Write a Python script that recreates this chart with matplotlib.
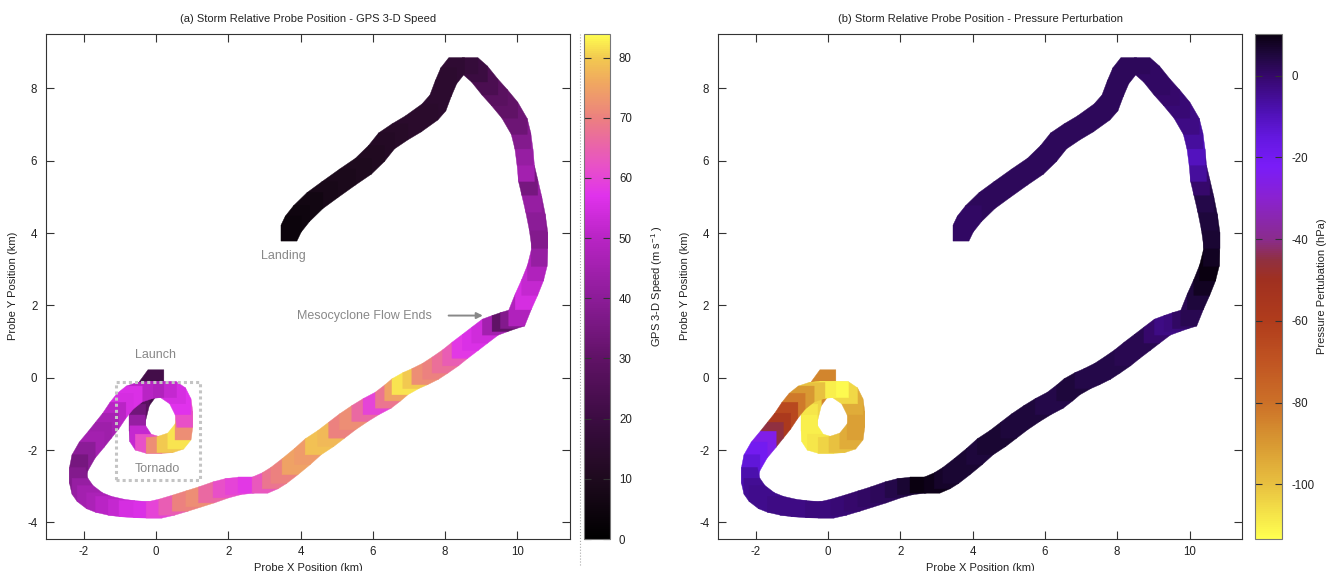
import numpy as np
import matplotlib
matplotlib.use('Agg')
import matplotlib.pyplot as plt
from matplotlib.collections import PolyCollection
from matplotlib.colors import LinearSegmentedColormap, Normalize
from matplotlib.lines import Line2D
from matplotlib.patches import Rectangle

plt.rcParams['font.family'] = ['Liberation Sans', 'DejaVu Sans']
plt.rcParams['mathtext.fontset'] = 'custom'
plt.rcParams['mathtext.rm'] = 'Liberation Sans'
plt.rcParams['mathtext.it'] = 'Liberation Sans:italic'
plt.rcParams['axes.unicode_minus'] = False

# probe track, storm relative (km), launch -> landing
track_x = [0.00, -0.40, -0.50, -0.52, -0.50, -0.35, -0.05, 0.25, 0.55, 0.75,
           0.80, 0.75, 0.60, 0.35, 0.00, -0.30, -0.60, -0.85, -1.05, -1.25,
           -1.45, -1.65, -1.90, -2.10, -2.17, -2.10, -1.96, -1.70, -1.45, -1.10,
           -0.80, -0.40, -0.05, 0.30, 0.67, 1.05, 1.40, 1.80, 2.14, 2.50,
           2.88, 3.16, 3.40, 3.71, 4.05, 4.35, 4.70, 5.00, 5.30, 5.64,
           5.95, 6.29, 6.55, 6.75, 7.05, 7.30, 7.60, 7.86, 8.15, 8.41,
           8.70, 8.96, 9.25, 9.52, 9.75, 9.98, 10.16, 10.34, 10.50, 10.60,
           10.62, 10.55, 10.45, 10.34, 10.25, 10.21, 10.15, 10.05, 9.79, 9.50,
           9.24, 8.95, 8.69, 8.32, 8.10, 7.95, 7.80, 7.58, 7.12, 6.75,
           6.38, 6.10, 5.74, 5.30, 4.81, 4.40, 4.03, 3.80, 3.68]
track_y = [0.00, -0.55, -0.95, -1.25, -1.55, -1.78, -1.87, -1.85, -1.75, -1.50,
           -1.15, -0.80, -0.50, -0.33, -0.32, -0.35, -0.45, -0.65, -0.90, -1.20,
           -1.45, -1.70, -2.00, -2.35, -2.70, -3.00, -3.20, -3.40, -3.50, -3.58,
           -3.62, -3.65, -3.66, -3.58, -3.47, -3.35, -3.24, -3.10, -3.01, -2.97,
           -2.97, -2.85, -2.70, -2.46, -2.18, -1.91, -1.68, -1.45, -1.22, -0.99,
           -0.80, -0.62, -0.42, -0.25, -0.08, 0.03, 0.18, 0.35, 0.55, 0.76,
           0.98, 1.18, 1.40, 1.50, 1.58, 1.65, 2.10, 2.50, 2.90, 3.30,
           3.80, 4.30, 4.80, 5.27, 5.65, 6.10, 6.55, 6.95, 7.40, 7.75,
           8.04, 8.40, 8.63, 8.63, 8.35, 8.00, 7.60, 7.35, 7.02, 6.80,
           6.55, 6.20, 5.85, 5.55, 5.20, 4.90, 4.54, 4.25, 4.00]
# GPS 3-D speed (m/s)
speed = [10, 22, 28, 34, 42, 52, 62, 72, 80, 82,
         72, 62, 57, 55, 52, 48, 50, 56, 55, 50,
         46, 44, 45, 40, 35, 38, 42, 45, 47, 50,
         52, 55, 56, 60, 64, 70, 72, 66, 62, 60,
         58, 63, 68, 70, 75, 74, 79, 78, 70, 72,
         66, 60, 68, 75, 82, 80, 72, 70, 67, 64,
         58, 56, 54, 45, 30, 38, 48, 55, 52, 48,
         42, 38, 40, 42, 35, 45, 42, 38, 33, 30,
         28, 24, 20, 18, 16, 15, 15, 15, 14, 14,
         13, 12, 11, 10, 9, 8, 6, 5, 4]
# pressure perturbation (hPa)
pressure = [-55, -85, -104, -108, -110, -110, -108, -104, -100, -95,
            -92, -92, -95, -105, -112, -110, -100, -90, -82, -65,
            -57, -45, -25, -20, -14, -8, -5, -4, -4, -3,
            -3, -3, -2, -2, -1, 0, 1, 2, 4, 6,
            10, 9, 7, 6, 6, 5, 6, 6, 5, 5,
            5, 4, 4, 5, 5, 4, 4, 4, 4, 3,
            3, 3, 0, -3, -2, 1, 3, 5, 8, 10,
            8, 6, 5, 4, 0, -6, -10, -6, -3, -1,
            0, 1, 1, 2, 2, 2, 2, 2, 2, 2,
            2, 2, 2, 2, 2, 2, 2, 1, 1]

speed_ticks = [0, 10, 20, 30, 40, 50, 60, 70, 80]
pressure_ticks = [0, -20, -40, -60, -80, -100]
km_ticks = [-2, 0, 2, 4, 6, 8, 10]

speed_cmap = LinearSegmentedColormap.from_list('speed', [
    (0.0, '#000000'), (0.119, '#1e0a1e'), (0.238, '#3c0c42'), (0.357, '#601266'),
    (0.476, '#8c1c98'), (0.595, '#b824c4'), (0.679, '#e032ec'), (0.738, '#e850c8'),
    (0.833, '#ec8080'), (0.905, '#f0a860'), (0.952, '#f2c850'), (1.0, '#ffff50')])
press_cmap = LinearSegmentedColormap.from_list('press', [
    (0.0, '#ffff50'), (0.108, '#e8c040'), (0.189, '#d89832'), (0.270, '#cc7028'),
    (0.351, '#c05422'), (0.432, '#b03c1c'), (0.512, '#a03020'), (0.553, '#903040'),
    (0.593, '#8a2c8c'), (0.674, '#8a22d0'), (0.739, '#7a1cf8'), (0.795, '#6418e0'),
    (0.852, '#4c10b0'), (0.917, '#36086c'), (0.957, '#200840'), (1.0, '#0a0010')])


def hull(pts):
    pts = sorted(set(pts))
    def cross(o, a, b):
        return (a[0]-o[0])*(b[1]-o[1]) - (a[1]-o[1])*(b[0]-o[0])
    lower, upper = [], []
    for p in pts:
        while len(lower) >= 2 and cross(lower[-2], lower[-1], p) <= 0:
            lower.pop()
        lower.append(p)
    for p in reversed(pts):
        while len(upper) >= 2 and cross(upper[-2], upper[-1], p) <= 0:
            upper.pop()
        upper.append(p)
    return lower[:-1] + upper[:-1]


def ribbon(ax, xs, ys, vals, cmap, norm, half=0.22):
    # square brush swept along the track, one piece per segment
    polys = []
    for i in range(len(xs) - 1):
        corners = []
        for px, py in ((xs[i], ys[i]), (xs[i+1], ys[i+1])):
            for sx in (-1, 1):
                for sy in (-1, 1):
                    corners.append((px + sx*half, py + sy*half))
        polys.append(hull(corners))
    pc = PolyCollection(polys, cmap=cmap, norm=norm, edgecolors='face', linewidths=0.3)
    pc.set_array(np.asarray(vals[1:], dtype=float))
    ax.add_collection(pc)
    return pc


def style_axes(ax, title):
    ax.set_xlim(-3.03, 11.45)
    ax.set_ylim(-4.46, 9.52)
    ax.set_xticks(km_ticks)
    ax.set_yticks([-4, -2, 0, 2, 4, 6, 8])
    ax.tick_params(direction='in', top=True, right=True, length=6, width=0.8,
                   color='#333333', labelsize=8.3, labelcolor='#222222')
    ax.tick_params(axis='y', pad=6.5)
    ax.tick_params(axis='x', pad=5)
    for s in ax.spines.values():
        s.set_color('#333333')
        s.set_linewidth(0.8)
    ax.set_title(title, fontsize=8, pad=8, color='#222222')
    ax.set_xlabel('Probe X Position (km)', fontsize=8, color='#222222')
    ax.set_ylabel('Probe Y Position (km)', fontsize=8, color='#222222')
    ax.xaxis.set_label_coords(0.5, -0.047)
    ax.yaxis.set_label_coords(-0.055, 0.5)


def style_cbar(cb, label, ticks, label_x):
    cax = cb.ax
    cb.set_ticks(ticks)
    cb.outline.set_edgecolor('#777777')
    cb.outline.set_linewidth(0.8)
    cax.tick_params(direction='in', left=True, right=True, length=5, width=0.8,
                    color='#333333', labelsize=8.3, labelcolor='#222222', pad=6.5)
    cax.set_ylabel(label, fontsize=8, color='#222222')
    cax.yaxis.set_label_coords(label_x, 0.5)


fig = plt.figure(figsize=(13.28, 5.71), dpi=100)
ax1 = fig.add_axes([0.0349, 0.0560, 0.3942, 0.8853])
cax1 = fig.add_axes([0.4395, 0.0560, 0.0198, 0.8853])
ax2 = fig.add_axes([0.5409, 0.0560, 0.3943, 0.8853])
cax2 = fig.add_axes([0.9450, 0.0560, 0.0204, 0.8853])

grey = '#888888'

pc1 = ribbon(ax1, track_x, track_y, speed, speed_cmap, Normalize(0, 84))
style_axes(ax1, '(a) Storm Relative Probe Position - GPS 3-D Speed')
cb1 = fig.colorbar(pc1, cax=cax1)
style_cbar(cb1, 'GPS 3-D Speed (m s$^{-1}$ )', speed_ticks, 2.5)

ax1.add_patch(Rectangle((-1.10, -2.83), 2.32, 2.72, fill=False, ls=(0, (1, 1)),
                        lw=2.2, ec='#c4c4c4', zorder=5))
ax1.text(-0.02, 0.62, 'Launch', ha='center', va='center', fontsize=9, color=grey)
ax1.text(0.04, -2.51, 'Tornado', ha='center', va='center', fontsize=9, color=grey, zorder=6)
ax1.text(3.52, 3.37, 'Landing', ha='center', va='center', fontsize=9, color=grey)
ax1.text(5.78, 1.70, 'Mesocyclone Flow Ends', ha='center', va='center', fontsize=9, color=grey)
ax1.annotate('', xy=(9.12, 1.72), xytext=(8.02, 1.72),
             arrowprops=dict(arrowstyle='-|>', color=grey, lw=1.4, mutation_scale=9))

pc2 = ribbon(ax2, track_x, track_y, pressure, press_cmap, Normalize(-113.4, 10.3))
style_axes(ax2, '(b) Storm Relative Probe Position - Pressure Perturbation')
cb2 = fig.colorbar(pc2, cax=cax2)
style_cbar(cb2, 'Pressure Pertubation (hPa)', pressure_ticks, 2.3)

fig.add_artist(Line2D([0.437, 0.437], [0.01, 0.94], transform=fig.transFigure,
                      ls=':', color='#aaaaaa', lw=0.8))

fig.savefig('out.png', dpi=100)
